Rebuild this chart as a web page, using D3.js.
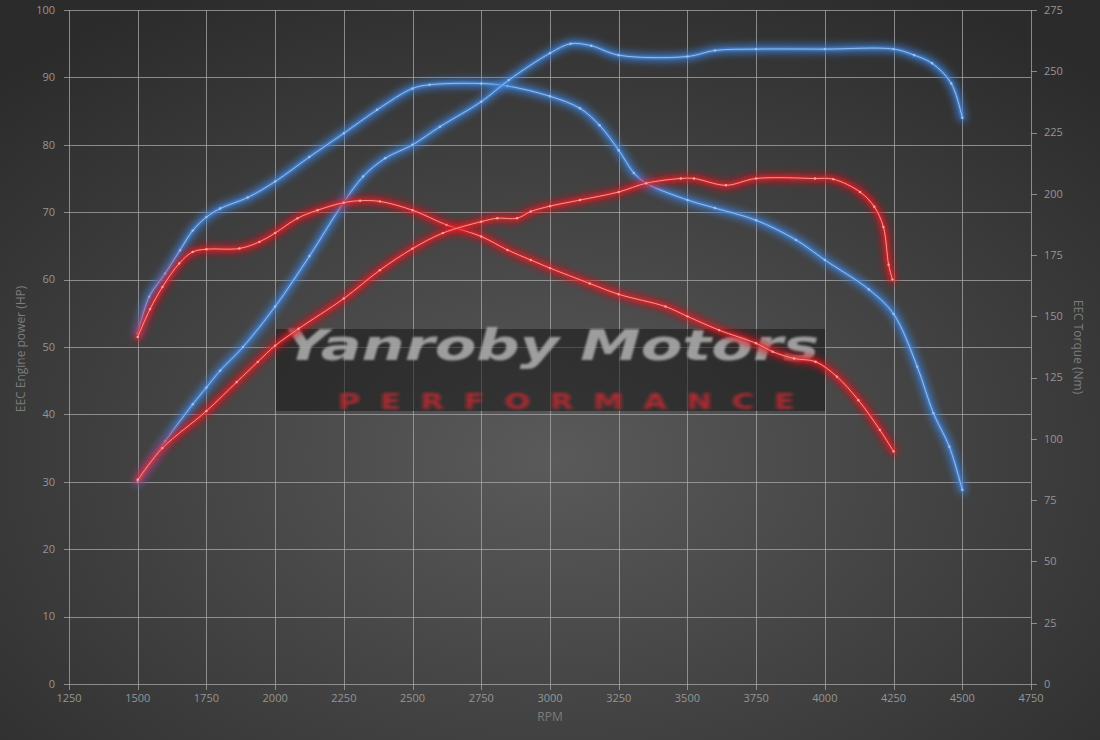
<!DOCTYPE html>
<html>
<head>
<meta charset="utf-8">
<script src="https://cdn.jsdelivr.net/npm/d3@7"></script>
<style>
  html, body { margin: 0; padding: 0; background: #2e2e2e; }
  svg { display: block; }
  .tick-label { font-family: "Open Sans", "DejaVu Sans", sans-serif; font-size: 11px; fill: #959595; }
  .axis-title { font-family: "Open Sans", "DejaVu Sans", sans-serif; font-size: 12px; fill: #7c7c7c; }
</style>
</head>
<body>
<div id="chart"></div>
<script>
// Tick values
const rpmTicks = [1250, 1500, 1750, 2000, 2250, 2500, 2750, 3000, 3250, 3500, 3750, 4000, 4250, 4500, 4750];
const hpTicks = [0, 10, 20, 30, 40, 50, 60, 70, 80, 90, 100];
const nmTicks = [0, 25, 50, 75, 100, 125, 150, 175, 200, 225, 250, 275];

// Tuned power (HP, left axis)
const tunedPowerRpm = [1500, 1600, 1700, 1750, 1800, 1883, 2000, 2125, 2250, 2320, 2400, 2500, 2600, 2750, 2850, 3000, 3075, 3150, 3250, 3500, 3600, 3750, 4000, 4250, 4325, 4390, 4460, 4500];
const tunedPowerHp = [30, 36, 41.5, 44, 46.5, 50, 56, 63.5, 71.5, 75.3, 78, 80, 82.7, 86.4, 89.6, 93.6, 95, 94.7, 93.3, 93.1, 94, 94.2, 94.2, 94.2, 93.3, 92.1, 89.1, 84];

// Tuned torque (Nm, right axis)
const tunedTorqueRpm = [1500, 1542, 1600, 1654, 1700, 1750, 1800, 1900, 2000, 2124, 2250, 2371, 2500, 2562, 2750, 2845, 3000, 3109, 3180, 3250, 3305, 3350, 3500, 3600, 3750, 3895, 4000, 4160, 4250, 4336, 4395, 4453, 4500];
const tunedTorqueNm = [143, 158, 167.5, 177, 185, 190.5, 194, 198.5, 205, 215, 224.7, 234.3, 243, 244.5, 245, 244, 239.8, 234.9, 228, 217.8, 208.5, 204.3, 197.5, 194.2, 189.2, 181.2, 173, 161, 151, 129.5, 110.5, 96.8, 79.2];

// Stock power (HP, left axis)
const stockPowerRpm = [1500, 1590, 1750, 1860, 1937, 2000, 2085, 2250, 2381, 2500, 2610, 2750, 2808, 2880, 2930, 3000, 3109, 3250, 3350, 3476, 3524, 3640, 3750, 3964, 4031, 4128, 4180, 4213, 4232, 4246];
const stockPowerHp = [30.3, 35, 40.5, 44.8, 47.8, 50.2, 52.7, 57.2, 61.4, 64.6, 66.9, 68.6, 69.1, 69.1, 70.1, 70.9, 71.8, 73, 74.3, 75, 75, 74, 75, 75, 74.9, 73, 70.8, 67.8, 62.2, 60];

// Stock torque (Nm, right axis)
const stockTorqueRpm = [1500, 1545, 1590, 1651, 1700, 1750, 1870, 1943, 2000, 2081, 2154, 2250, 2309, 2381, 2500, 2624, 2750, 2845, 2930, 3000, 3145, 3250, 3420, 3500, 3615, 3750, 3810, 3888, 3966, 4044, 4122, 4200, 4250];
const stockTorqueNm = [141.6, 153, 162, 171.6, 176.3, 177.4, 177.7, 180.4, 184, 190, 193.3, 196.4, 197.2, 196.9, 193.3, 187.3, 182.6, 177.1, 173, 169.7, 163.4, 159, 154, 150, 144.4, 139, 135.6, 132.8, 131.5, 125.4, 115.8, 103.7, 94.9];

const W = 1100, H = 740;
const plot = { left: 69, right: 1031, top: 10, bottom: 684 };

const x = d3.scaleLinear().domain([1250, 4750]).range([plot.left, plot.right]);
const yL = d3.scaleLinear().domain([0, 100]).range([plot.bottom, plot.top]);
const yR = d3.scaleLinear().domain([0, 275]).range([plot.bottom, plot.top]);

const svg = d3.select("#chart").append("svg").attr("width", W).attr("height", H);
const defs = svg.append("defs");

// background radial gradient
const bg = defs.append("radialGradient").attr("id", "bg")
  .attr("cx", "50%").attr("cy", "62%").attr("r", "72%");
bg.append("stop").attr("offset", "0%").attr("stop-color", "#5a5a5a");
bg.append("stop").attr("offset", "55%").attr("stop-color", "#404040");
bg.append("stop").attr("offset", "100%").attr("stop-color", "#2b2b2b");
svg.append("rect").attr("width", W).attr("height", H).attr("fill", "url(#bg)");

function blur(id, sd) {
  defs.append("filter").attr("id", id)
    .attr("x", "-10%").attr("y", "-10%").attr("width", "120%").attr("height", "120%")
    .append("feGaussianBlur").attr("stdDeviation", sd);
}
blur("glowWide", 3.6);
blur("glowNarrow", 1.2);
blur("soft", 0.9);
blur("softer", 1.4);

// grid
const grid = svg.append("g").attr("stroke", "#a8a8a8").attr("stroke-opacity", 0.75).attr("stroke-width", 1);
grid.selectAll(".v").data(rpmTicks).join("line")
  .attr("x1", d => Math.round(x(d)) + 0.5).attr("x2", d => Math.round(x(d)) + 0.5)
  .attr("y1", plot.top).attr("y2", plot.bottom + 6);
grid.selectAll(".h").data(hpTicks).join("line")
  .attr("x1", plot.left - 5).attr("x2", plot.right)
  .attr("y1", d => Math.round(yL(d)) + 0.5).attr("y2", d => Math.round(yL(d)) + 0.5);
grid.selectAll(".r").data(nmTicks).join("line")
  .attr("x1", plot.right).attr("x2", plot.right + 6)
  .attr("y1", d => Math.round(yR(d)) + 0.5).attr("y2", d => Math.round(yR(d)) + 0.5);

// tick labels
svg.append("g").selectAll("text").data(hpTicks).join("text")
  .attr("class", "tick-label").attr("text-anchor", "end")
  .attr("x", plot.left - 14).attr("y", d => yL(d)).attr("dy", "0.35em")
  .text(d => d);
svg.append("g").selectAll("text").data(nmTicks).join("text")
  .attr("class", "tick-label").attr("text-anchor", "start")
  .attr("x", plot.right + 13).attr("y", d => yR(d)).attr("dy", "0.35em")
  .text(d => d);
svg.append("g").selectAll("text").data(rpmTicks).join("text")
  .attr("class", "tick-label").attr("text-anchor", "middle")
  .attr("x", d => x(d)).attr("y", plot.bottom + 18)
  .text(d => d);

// axis titles
svg.append("text").attr("class", "axis-title").attr("text-anchor", "middle")
  .attr("x", 550).attr("y", 721).text("RPM");
svg.append("text").attr("class", "axis-title").attr("text-anchor", "middle")
  .attr("transform", "translate(25,349) rotate(-90)").text("EEC Engine power (HP)");
svg.append("text").attr("class", "axis-title").attr("text-anchor", "middle")
  .attr("transform", "translate(1074,347) rotate(90)").text("EEC Torque (Nm)");

// watermark
const wm = svg.append("g");
wm.append("rect").attr("x", 276).attr("y", 329).attr("width", 549).attr("height", 82)
  .attr("fill", "#151515").attr("fill-opacity", 0.55);
wm.append("text").attr("x", 284).attr("y", 360)
  .attr("font-family", "DejaVu Sans").attr("font-weight", "bold").attr("font-style", "italic")
  .attr("font-size", 42).attr("fill", "#b0b0b0").attr("fill-opacity", 0.85)
  .attr("textLength", 535).attr("lengthAdjust", "spacingAndGlyphs")
  .attr("filter", "url(#soft)").text("Yanroby Motors");
wm.append("text").attr("transform", "translate(338,409) scale(1.45,1)")
  .attr("font-family", "DejaVu Sans").attr("font-weight", "bold")
  .attr("font-size", 21).attr("fill", "#c02a34").attr("fill-opacity", 0.85)
  .attr("textLength", 315).attr("lengthAdjust", "spacing")
  .attr("filter", "url(#softer)").text("PERFORMANCE");

// series
const series = [
  { rpm: tunedTorqueRpm, val: tunedTorqueNm, y: yR, glow: "#3a80dc", mid: "#4d90e4", core: "#9cc4f2" },
  { rpm: tunedPowerRpm, val: tunedPowerHp, y: yL, glow: "#3a80dc", mid: "#4d90e4", core: "#9cc4f2" },
  { rpm: stockTorqueRpm, val: stockTorqueNm, y: yR, glow: "#e0141c", mid: "#e8262c", core: "#ffa0a0" },
  { rpm: stockPowerRpm, val: stockPowerHp, y: yL, glow: "#e0141c", mid: "#e8262c", core: "#ffa0a0" }
];

const lines = svg.append("g").attr("fill", "none").attr("stroke-linecap", "round").attr("stroke-linejoin", "round");
series.forEach(s => {
  const pts = s.rpm.map((r, i) => [r, s.val[i]]);
  const line = d3.line().x(d => x(d[0])).y(d => s.y(d[1])).curve(d3.curveCatmullRom.alpha(0.5));
  const g = lines.append("g");
  g.append("path").attr("d", line(pts)).attr("stroke", s.glow).attr("stroke-width", 9)
    .attr("stroke-opacity", 0.7).attr("filter", "url(#glowWide)");
  g.append("path").attr("d", line(pts)).attr("stroke", s.mid).attr("stroke-width", 2.6)
    .attr("stroke-opacity", 0.85).attr("filter", "url(#glowNarrow)");
  g.append("path").attr("d", line(pts)).attr("stroke", s.core).attr("stroke-width", 0.9);
  g.selectAll("circle").data(pts).join("circle")
    .attr("cx", d => x(d[0])).attr("cy", d => s.y(d[1])).attr("r", 1.2)
    .attr("fill", s.core);
});
</script>
</body>
</html>
